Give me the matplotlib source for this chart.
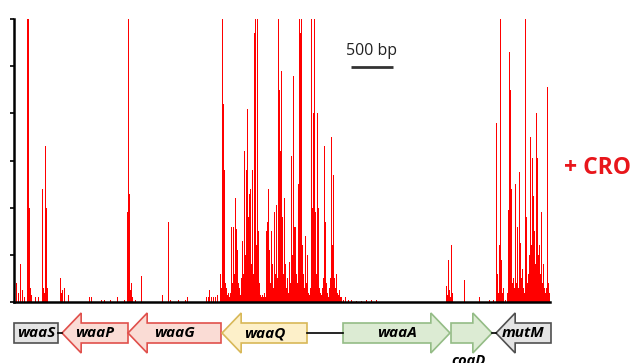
import numpy as np
import matplotlib
matplotlib.use("Agg")
import matplotlib.pyplot as plt
from matplotlib.patches import Polygon

plt.rcParams['font.family'] = ['Open Sans', 'DejaVu Sans']

# insertion sites as (bp from left end of window, read count), split by stretch
sites_waaS_waaP = [
    (24, 4), (48, 2), (72, 8), (96, 2.5), (120, 1), (156, 75), (168, 75), (180, 20),
    (192, 3), (204, 1.5), (252, 1), (288, 1), (336, 24), (348, 3), (360, 2), (372, 33),
    (384, 20), (396, 3), (552, 5), (564, 2), (576, 2.5), (600, 3), (648, 1.5),
    (900, 1), (924, 1), (1044, 0.5), (1080, 0.5), (1152, 0.5), (1236, 1), (1320, 0.5),
]
sites_waaG = [
    (1356, 19), (1368, 75), (1380, 23), (1392, 2.5), (1404, 4), (1416, 1), (1452, 0.5),
    (1524, 5.5), (1776, 1.5), (1848, 17), (1872, 0.5), (1968, 0.5), (2052, 0.5),
    (2076, 1), (2304, 1), (2328, 1), (2340, 2.5), (2364, 1), (2388, 1), (2412, 1),
    (2436, 1.5),
]
sites_waaQ = [
    (2472, 6), (2484, 3), (2496, 75), (2508, 42), (2520, 28), (2532, 4), (2544, 3),
    (2556, 1.5), (2568, 2), (2580, 1), (2592, 2), (2604, 16), (2616, 4), (2628, 16),
    (2640, 6), (2652, 22), (2664, 15.5), (2676, 11), (2688, 4), (2700, 3), (2712, 1.5),
    (2724, 5), (2736, 13), (2748, 6), (2760, 32), (2772, 10), (2784, 28), (2796, 41),
    (2808, 18), (2820, 23), (2832, 24), (2844, 8), (2856, 28), (2868, 6), (2880, 57),
    (2892, 75), (2904, 12), (2916, 75), (2928, 15), (2940, 4), (2952, 1.5), (2964, 1),
    (2976, 1.5), (2988, 1), (3000, 2), (3012, 1), (3024, 15), (3036, 17), (3048, 24),
    (3060, 11), (3072, 4), (3084, 15), (3096, 8), (3108, 3), (3120, 19), (3132, 6),
    (3144, 20.5), (3156, 5), (3168, 75), (3180, 45), (3192, 32), (3204, 49), (3216, 18),
    (3228, 6), (3240, 22), (3252, 8), (3264, 3), (3276, 5), (3288, 2), (3300, 8.5),
    (3312, 4), (3324, 31), (3336, 10), (3348, 48), (3360, 16), (3372, 16), (3384, 6),
    (3396, 4), (3408, 25), (3420, 75), (3432, 57), (3444, 75), (3456, 12), (3468, 6),
    (3480, 3), (3492, 14), (3504, 4), (3516, 10),
]
sites_intergenic = [
    (3528, 2), (3540, 1.5), (3552, 3), (3564, 75), (3576, 20), (3588, 40), (3600, 75),
    (3612, 19), (3624, 6), (3636, 40), (3648, 20), (3660, 3), (3672, 2), (3684, 1.5),
    (3696, 3), (3708, 5), (3720, 33), (3732, 17), (3744, 4), (3756, 2), (3768, 1),
    (3780, 3), (3792, 5), (3804, 35), (3816, 12), (3828, 27), (3840, 5), (3852, 3),
    (3864, 6), (3876, 2), (3888, 1.5), (3900, 2.5), (3912, 1), (3924, 1), (3948, 0.5),
    (3972, 1), (4008, 0.5), (4044, 0.5), (4104, 0.3), (4164, 0.3), (4224, 0.5),
    (4284, 0.5), (4344, 0.5),
]
sites_waaA_coaD = [
    (5184, 3.4), (5196, 1.5), (5208, 9), (5220, 2.5), (5232, 1), (5244, 12), (5256, 2),
    (5400, 4.7), (5580, 1), (5700, 0.5), (5748, 0.5),
]
sites_mutM = [
    (5784, 38), (5796, 6), (5808, 2), (5820, 12), (5832, 75), (5844, 9), (5856, 2),
    (5868, 3), (5892, 0.5), (5916, 2), (5928, 19.5), (5940, 53), (5952, 45), (5964, 24),
    (5976, 4), (5988, 5), (6000, 3), (6012, 25), (6024, 4), (6036, 16), (6048, 3),
    (6060, 27.5), (6072, 12.5), (6084, 5), (6096, 7), (6108, 3), (6120, 2), (6132, 75),
    (6144, 18), (6156, 4), (6168, 6), (6180, 10), (6192, 35), (6204, 12), (6216, 30.5),
    (6228, 22.5), (6240, 15), (6252, 8), (6264, 40), (6276, 30.5), (6288, 10),
    (6300, 12), (6312, 6), (6324, 19), (6336, 4), (6348, 8), (6360, 3), (6372, 2),
    (6384, 3), (6396, 45.5), (6408, 4), (6420, 2),
]

# genes in the window: name, start, end, strand, fill, edge
gene_names = ['waaS', 'waaP', 'waaG', 'waaQ', 'waaA', 'coaD', 'mutM']
gene_start = [0, 576, 1368, 2496, 3948, 5244, 5784]
gene_end = [528, 1368, 2484, 3516, 5232, 5736, 6444]
gene_strand = [0, -1, -1, -1, 1, 1, -1]
gene_fill = ['#e4e4e4', '#fadcd5', '#fadcd5', '#fdf0c9', '#dcebd3', '#dcebd3', '#e4e4e4']
gene_edge = ['#505050', '#e0504c', '#e0504c', '#d8b858', '#94bc86', '#94bc86', '#505050']

xmax = 6432

all_sites = (sites_waaS_waaP + sites_waaG + sites_waaQ + sites_intergenic
             + sites_waaA_coaD + sites_mutM)
positions = [p for p, c in all_sites]
counts = [c for p, c in all_sites]

fig = plt.figure(figsize=(6.33, 3.63), dpi=100)
ax = fig.add_axes([14 / 633, 61 / 363, 536 / 633, 283 / 363])
ax.bar(positions, counts, width=12, color='#ff0000', linewidth=0, align='center')
ax.set_xlim(0, xmax)
ax.set_ylim(0, 60)
ax.set_yticks(np.arange(0, 61, 10))
ax.set_yticklabels([])
ax.set_xticks([])
ax.tick_params(axis='y', direction='out', length=3, width=1.2)
for s in ['top', 'right']:
    ax.spines[s].set_visible(False)
ax.spines['left'].set_linewidth(1.8)
ax.spines['bottom'].set_linewidth(1.8)

# scale bar
ax.plot([4044, 4544], [49.8, 49.8], color='#333333', lw=2, solid_capstyle='butt')
ax.text(4294, 51.6, '500 bp', ha='center', va='bottom', fontsize=11.5, color='#222222')

fig.text(597 / 633, 1 - 168 / 363, '+ CRO', color='#e8161b', fontsize=16.5,
         fontweight='bold', ha='center', va='center')

# gene track (y in pixel rows)
gx = fig.add_axes([14 / 633, 0, 536 / 633, 58 / 363])
gx.set_xlim(0, xmax)
gx.set_ylim(363, 305)
gx.axis('off')

yc, body, head = 333, 10, 20
head_len = 230
links = [(528, 576), (3516, 3948), (5736, 5784)]
for a, b in links:
    gx.plot([a, b], [yc, yc], color='black', lw=1.2, clip_on=False)

for name, s, e, st, fc, ec in zip(gene_names, gene_start, gene_end, gene_strand,
                                  gene_fill, gene_edge):
    if st == 1:
        hb = e - head_len
        pts = [(s, yc - body), (hb, yc - body), (hb, yc - head), (e, yc),
               (hb, yc + head), (hb, yc + body), (s, yc + body)]
    elif st == -1:
        hb = s + head_len
        pts = [(e, yc - body), (hb, yc - body), (hb, yc - head), (s, yc),
               (hb, yc + head), (hb, yc + body), (e, yc + body)]
    else:
        pts = [(s, yc - body), (e, yc - body), (e, yc + body), (s, yc + body)]
    gx.add_patch(Polygon(pts, closed=True, facecolor=fc, edgecolor=ec, lw=1.2,
                         clip_on=False))
    if name == 'coaD':
        gx.text((s + e) / 2 - 40, 354, name, ha='center', va='top', fontsize=10.5,
                style='italic', fontweight='bold', clip_on=False)
    else:
        gx.text((s + e) / 2, yc, name, ha='center', va='center', fontsize=11,
                style='italic', fontweight='bold', clip_on=False)

fig.savefig('out.png', dpi=100)
